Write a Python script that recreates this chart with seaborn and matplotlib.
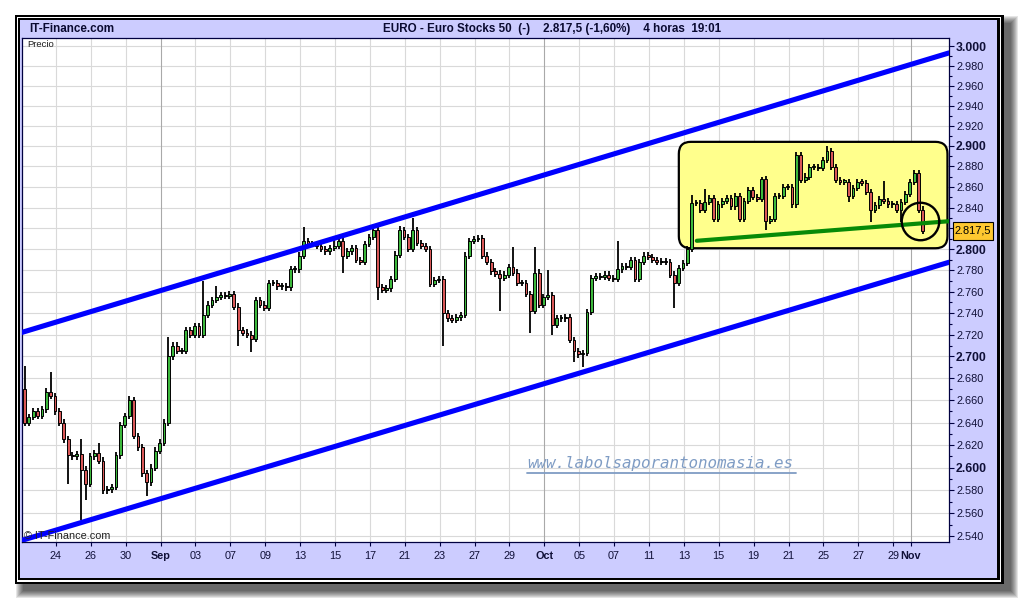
import matplotlib
matplotlib.use("Agg")
import matplotlib.pyplot as plt
import seaborn as sns
import pandas as pd
from matplotlib.patches import Rectangle, FancyBboxPatch
from matplotlib.lines import Line2D
from matplotlib.transforms import IdentityTransform
from matplotlib.ticker import FixedLocator, NullFormatter

# ---------------- data ----------------
first_open = 2670
closes = [
    2640, 2645, 2650, 2646, 2652, 2668, 2664, 2650, 2640, 2625,
    2611, 2610, 2612, 2598, 2586, 2610, 2613, 2606, 2580, 2581,
    2583, 2611, 2638, 2646, 2660, 2628, 2618, 2595, 2587, 2600,
    2615, 2622, 2640, 2700, 2710, 2705, 2705, 2724, 2720, 2728,
    2720, 2738, 2748, 2752, 2755, 2757, 2756, 2758, 2746, 2724,
    2722, 2720, 2716, 2752, 2748, 2745, 2768, 2768, 2765, 2765,
    2764, 2781, 2781, 2794, 2808, 2805, 2805, 2803, 2800, 2798,
    2801, 2803, 2808, 2794, 2798, 2801, 2790, 2788, 2805, 2812,
    2818, 2764, 2762, 2763, 2772, 2795, 2818, 2812, 2800, 2818,
    2806, 2803, 2800, 2767, 2771, 2772, 2740, 2735, 2734, 2736,
    2738, 2794, 2808, 2810, 2811, 2794, 2788, 2779, 2777, 2773,
    2776, 2783, 2778, 2768, 2768, 2758, 2742, 2778, 2748, 2755,
    2757, 2729, 2735, 2735, 2736, 2715, 2705, 2702, 2703, 2741,
    2773, 2775, 2774, 2776, 2773, 2772, 2781, 2784, 2783, 2790,
    2772, 2788, 2794, 2793, 2790, 2788, 2789, 2788, 2776, 2768,
    2782, 2787, 2800, 2844, 2844, 2838, 2845, 2849, 2829, 2843,
    2846, 2849, 2841, 2851, 2829, 2846, 2857, 2850, 2848, 2868,
    2827, 2829, 2851, 2851, 2860, 2860, 2843, 2891, 2867, 2870,
    2879, 2879, 2878, 2886, 2895, 2879, 2867, 2865, 2865, 2851,
    2859, 2865, 2864, 2855, 2838, 2842, 2848, 2846, 2843, 2843,
    2838, 2845, 2853, 2865, 2873, 2838, 2817.5,
]
wick_highs = {0: 2691, 6: 2686, 13: 2625, 17: 2622, 24: 2664, 33: 2718,
              41: 2770, 44: 2765, 64: 2821, 71: 2812, 80: 2822, 86: 2822,
              89: 2830, 112: 2802, 117: 2802, 120: 2780, 136: 2808,
              153: 2852, 156: 2858, 169: 2870, 177: 2894, 184: 2900,
              197: 2866, 204: 2876}
wick_lows = {10: 2586, 13: 2554, 14: 2572, 28: 2575, 49: 2710, 52: 2704,
             73: 2778, 81: 2752, 96: 2710, 109: 2742, 116: 2722,
             121: 2720, 126: 2695, 128: 2690, 149: 2745, 170: 2818,
             189: 2845, 194: 2826, 201: 2826, 206: 2815}
wick_pad = 3
bar_start = -1.8          # trading-day index of the first bar (24 Aug = 0)
bars_per_day = 4

day_ticks = [0, 2, 4, 6, 8, 10, 12, 14, 16, 18, 20, 22, 24, 26, 28, 30,
             32, 34, 36, 38, 40, 42, 44, 46, 48, 49]
day_labels = ["24", "26", "30", "Sep", "03", "07", "09", "13", "15", "17",
              "21", "23", "27", "29", "Oct", "05", "07", "11", "13", "15",
              "19", "21", "25", "27", "29", "Nov"]
month_labels = ["Sep", "Oct", "Nov"]

price_ticks = [2540, 2560, 2580, 2600, 2620, 2640, 2660, 2680, 2700, 2720,
               2740, 2760, 2780, 2800, 2820, 2840, 2860, 2880, 2900, 2920,
               2940, 2960, 2980, 3000]
price_labels = ["2.540", "2.560", "2.580", "2.600", "2.620", "2.640",
                "2.660", "2.680", "2.700", "2.720", "2.740", "2.760",
                "2.780", "2.800", "2.820", "2.840", "2.860", "2.880",
                "2.900", "2.920", "2.940", "2.960", "2.980", "3.000"]
bold_prices = [2600, 2700, 2800, 2900, 3000]
minor_ticks = [2550, 2570, 2590, 2610, 2630, 2650, 2670, 2690, 2710, 2730,
               2750, 2770, 2790, 2810, 2830, 2850, 2870, 2890, 2910, 2930,
               2950, 2970, 2990]

trend_days = [-1.973, 51.198]
upper_channel = [2722, 2993]
lower_channel = [2536.5, 2787.7]
support_days = [36.74, 51.198]
support_line = [2808.1, 2826.8]
box_days = [35.71, 51.11]
box_prices = [2801.0, 2904.0]
circle_day = 49.56
circle_price = 2826.8
last_price = 2817.5

title_left = "IT-Finance.com"
title_main = "EURO - Euro Stocks 50  (-)    2.817,5 (-1,60%)    4 horas  19:01"
watermark = "www.labolsaporantonomasia.es"

# ---------------- style ----------------
sns.set_style("white")
plt.rcParams["font.family"] = ["Liberation Sans", "DejaVu Sans"]

W, H = 1020, 600
NAVY = "#101038"
LAV = "#ccccff"

fig = plt.figure(figsize=(W / 100, H / 100), dpi=100)
fig.patch.set_facecolor("white")


def frect(x0, y0, x1, y1, **kw):
    fig.add_artist(Rectangle((x0 / W, 1 - y1 / H), (x1 - x0) / W,
                             (y1 - y0) / H, transform=fig.transFigure, **kw))


# drop shadow
for e in range(7, -1, -1):
    frect(23 - e, 23 - e, 1011 + e, 591 + e, facecolor="black",
          edgecolor="none", alpha=0.10, zorder=-5)
# window frame
frect(15, 15, 1004, 584, facecolor="black", edgecolor="none", zorder=-4)
frect(17, 17, 1001.5, 581.5, facecolor="white", edgecolor="none", zorder=-4)
frect(18.3, 18.3, 1000, 580, facecolor="black", edgecolor="none", zorder=-4)
frect(19.5, 19.5, 997.5, 577.5, facecolor=LAV, edgecolor="none", zorder=-4)

# ---------------- axes ----------------
L, R, T, B = 21.5, 949, 38, 541.5
ax = fig.add_axes([L / W, 1 - B / H, (R - L) / W, (B - T) / H])
ax.set_facecolor("white")
ax.set_yscale("log")
ax.set_xlim(-1.973, 51.198)
ax.set_ylim(2535.6, 3008.2)
ax.set_autoscale_on(False)

for s in ax.spines.values():
    s.set_color("#000040")
    s.set_linewidth(0.9)

# grid
for p in price_ticks:
    ax.axhline(p, color="#d9d9d9", lw=0.8, zorder=0.5)
for d, lab in zip(day_ticks, day_labels):
    ax.axvline(d, color="#a9a9a9" if lab in month_labels else "#d9d9d9",
               lw=0.8, zorder=0.5)

# highlighted yellow box (rounded, drawn in pixel space)
(bx0, by0) = ax.transData.transform((box_days[0], box_prices[0]))
(bx1, by1) = ax.transData.transform((box_days[1], box_prices[1]))
ax.add_patch(FancyBboxPatch((bx0, by0), bx1 - bx0, by1 - by0,
                            boxstyle="round,pad=0,rounding_size=12",
                            transform=IdentityTransform(),
                            facecolor="#ffff8c", edgecolor="black",
                            lw=1.6, zorder=1.5))

# candles
n = len(closes)
df = pd.DataFrame({
    "t": [bar_start + i / bars_per_day for i in range(n)],
    "close": closes,
    "open": [first_open] + closes[:-1],
})
df["high"] = [wick_highs.get(i, max(o, c) + wick_pad)
              for i, (o, c) in enumerate(zip(df["open"], df["close"]))]
df["low"] = [wick_lows.get(i, min(o, c) - wick_pad)
             for i, (o, c) in enumerate(zip(df["open"], df["close"]))]
df["bottom"] = df[["open", "close"]].min(axis=1)
df["height"] = (df["close"] - df["open"]).abs().clip(lower=1.2)
colors = ["#3cb83c" if c >= o else "#d95757"
          for o, c in zip(df["open"], df["close"])]

ax.vlines(df["t"], df["low"], df["high"], color="black", lw=1.3, zorder=2.9)
ax.bar(df["t"], df["height"], bottom=df["bottom"], width=0.16,
       color=colors, edgecolor="black", linewidth=0.7, zorder=3)

# trend lines
sns.lineplot(x=support_days, y=support_line, ax=ax, color="#078a07",
             lw=3.0, zorder=4)
sns.lineplot(x=trend_days, y=upper_channel, ax=ax, color="#0000ff",
             lw=3.7, zorder=5)
sns.lineplot(x=trend_days, y=lower_channel, ax=ax, color="#0000ff",
             lw=3.7, zorder=5)
ax.plot([circle_day], [circle_price], "o", ms=27, mfc="none", mec="black",
        mew=1.7, zorder=6)

# ticks
ax.set_xticks(day_ticks, labels=day_labels)
for lab in ax.get_xticklabels():
    if lab.get_text() in month_labels:
        lab.set_fontweight("bold")
        lab.set_fontsize(8.6)
ax.tick_params(axis="x", direction="out", length=3, width=0.8,
               color="#000040", labelsize=7.8, labelcolor=NAVY, pad=4,
               bottom=True)

ax.yaxis.tick_right()
ax.set_yticks(price_ticks, labels=price_labels)
ax.yaxis.set_minor_locator(FixedLocator(minor_ticks))
ax.yaxis.set_minor_formatter(NullFormatter())
ax.tick_params(axis="y", which="major", direction="out", length=3.6,
               width=0.8, color="#000040", labelsize=7.9, labelcolor=NAVY,
               pad=1.5, right=True, left=False)
ax.tick_params(axis="y", which="minor", direction="out", length=2.2,
               width=0.8, color="#000040", right=True, left=False)
for lab, p in zip(ax.get_yticklabels(), price_ticks):
    if p in bold_prices:
        lab.set_fontweight("bold")
        lab.set_fontsize(8.8)
    # the last-price tag sits on top of the neighbouring axis label
    if abs(p - last_price) < 10:
        lab.set_visible(False)
ax.set_xlabel("")
ax.set_ylabel("")
if ax.get_legend():
    ax.get_legend().remove()

# ---------------- texts ----------------
def ftext(x, y, s, **kw):
    return fig.text(x / W, 1 - y / H, s, **kw)


ftext(29, 29, title_left, fontsize=8.4, fontweight="bold", color="#0a0a30",
      va="center", ha="left")
ftext(383, 29, title_main, fontsize=8.4, fontweight="bold", color="#0a0a30",
      va="center", ha="left")
ftext(27, 47, "Precio", fontsize=6.8, color="#202020", va="baseline")
ftext(24, 539, "\u00a9 IT-Finance.com", fontsize=7.8, color="#202020",
      va="baseline", zorder=8)
ftext(527, 468, watermark, family="DejaVu Sans Mono", style="italic",
      fontsize=11.4, color="#7f9cc4", va="baseline", zorder=8)
fig.add_artist(Line2D([527 / W, 796 / W], [1 - 472.5 / H, 1 - 472.5 / H],
                      transform=fig.transFigure, color="#7f9cc4", lw=1.3,
                      zorder=8))

# last price tag on the axis
ty = ax.transData.transform((0, last_price))[1]
ty_px = H - ty
frect(953, ty_px - 9, 993, ty_px + 9, facecolor="#ffc830",
      edgecolor="black", lw=0.8, zorder=8)
tag = f"{last_price:,.1f}".replace(",", "X").replace(".", ",").replace("X", ".")
ftext(973, ty_px, tag, fontsize=7.9, color="black", ha="center",
      va="center", zorder=9)

fig.savefig("out.png", dpi=100)
